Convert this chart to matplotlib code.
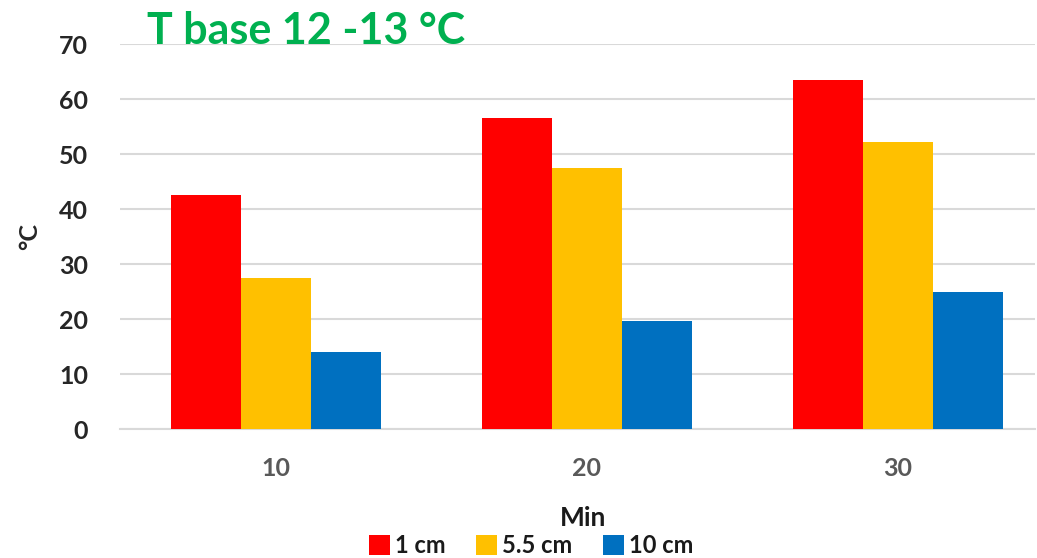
import numpy as np
import matplotlib.pyplot as plt

# data
minutes = ['10', '20', '30']
series = ['1 cm', '5.5 cm', '10 cm']
d1 = [42.5, 56.5, 63.5]
d55 = [27.5, 47.5, 52.2]
d10 = [14.0, 19.7, 25.0]
colors = ['#FF0000', '#FFC000', '#0070C0']

plt.rcParams['font.family'] = ['Lato', 'DejaVu Sans']

fig = plt.figure(figsize=(10.37, 5.58), dpi=100)
ax = fig.add_axes([0.116, 0.231, 0.882, 0.69])

x = np.arange(len(minutes))
w = 0.225
for i, (vals, lab) in enumerate(zip([d1, d55, d10], series)):
    ax.bar(x + (i - 1) * w, vals, width=w, color=colors[i], label=lab, zorder=3)

ax.set_xlim(-0.5, 2.44)
ax.set_ylim(0, 70)
ax.set_yticks(range(0, 71, 10))
ax.set_xticks(x)
ax.set_xticklabels(minutes)
ax.grid(axis='y', color='#d9d9d9', linewidth=1.5, zorder=0)
for s in ['top', 'right', 'left']:
    ax.spines[s].set_visible(False)
ax.spines['bottom'].set_color('#d9d9d9')
ax.spines['bottom'].set_linewidth(1.5)
ax.tick_params(axis='both', length=0)
ax.tick_params(axis='y', labelsize=18, labelcolor='#262626', pad=23)
ax.tick_params(axis='x', labelsize=18, labelcolor='#595959', pad=20)
for t in ax.get_yticklabels() + ax.get_xticklabels():
    t.set_fontweight('bold')

ax.set_ylabel('°C', fontsize=18, fontweight='bold', color='#262626', labelpad=13)
fig.text(0.562, 0.072, 'Min', ha='center', va='center', fontsize=19,
         fontweight='bold', color='#1a1a1a')

leg = fig.legend(loc='center', bbox_to_anchor=(0.512, 0.022), ncol=3, frameon=False,
                 fontsize=17, handlelength=0.9, handleheight=0.9, handletextpad=0.2,
                 columnspacing=1.3)
for t in leg.get_texts():
    t.set_fontweight('bold')
    t.set_color('#1a1a1a')

fig.text(0.142, 0.945, 'T base 12 -13 °C', ha='left', va='center', fontsize=31,
         fontweight='bold', color='#00B050')

fig.savefig('out.png', dpi=100)
